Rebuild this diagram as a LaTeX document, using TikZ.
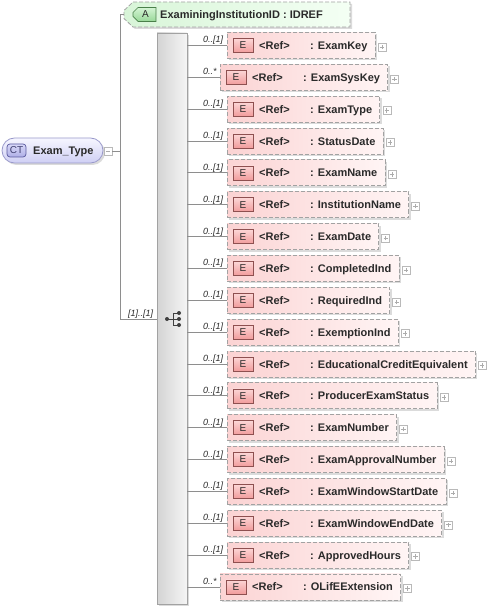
\documentclass[tikz,border=0pt]{standalone}
\usepackage{fontspec}
\setmainfont{Liberation Sans}
\usetikzlibrary{calc,fit,backgrounds,shadows}
\definecolor{linegray}{HTML}{8E8E8E}
\definecolor{boxgray}{HTML}{A2A2A2}
\definecolor{elL}{HTML}{FBD3D3}
\definecolor{elR}{HTML}{FFF5F5}
\definecolor{Etop}{HTML}{FCD6D6}
\definecolor{Ebot}{HTML}{F19C9C}
\definecolor{Ebord}{HTML}{8E5050}
\definecolor{atL}{HTML}{D8F5D8}
\definecolor{atR}{HTML}{F4FFF4}
\definecolor{Atop}{HTML}{D4F4D4}
\definecolor{Abot}{HTML}{98D898}
\definecolor{Abord}{HTML}{4A804A}
\definecolor{ctTop}{HTML}{F6F6FF}
\definecolor{ctBot}{HTML}{CFCFF4}
\definecolor{ctBord}{HTML}{9A9ACB}
\definecolor{ctbTop}{HTML}{D8D8F8}
\definecolor{ctbBot}{HTML}{AFAFE6}
\definecolor{ctbBord}{HTML}{5A5A9E}
\definecolor{txt}{HTML}{2A2A2A}
\tikzset{
  connline/.style={draw=linegray, line width=0.8pt},
  shad/.style={drop shadow={shadow xshift=2pt, shadow yshift=-2pt, fill=black, opacity=0.14}},
  elbox/.style={draw=boxgray, dash pattern=on 4pt off 2pt, line width=0.8pt,
    left color=elL, right color=elR, inner sep=0pt, shad},
  nametext/.style={font=\bfseries\fontsize{11}{13}\selectfont, text=txt, inner sep=0pt},
  multtext/.style={font=\itshape\fontsize{9}{10}\selectfont, text=txt, inner sep=0pt},
  badgeE/.style={draw=Ebord, line width=0.7pt, top color=Etop, bottom color=Ebot,
    minimum width=20pt, minimum height=14pt, inner sep=0pt,
    font=\fontsize{10}{10}\selectfont, text=txt},
  plusbox/.style={draw=gray!55, fill=white, line width=0.5pt, minimum size=8pt, inner sep=0pt,
    path picture={\draw[gray!65, line width=0.6pt]
      ([xshift=1.8pt]path picture bounding box.west) -- ([xshift=-1.8pt]path picture bounding box.east)
      ([yshift=1.8pt]path picture bounding box.south) -- ([yshift=-1.8pt]path picture bounding box.north);}},
  minusbox/.style={draw=gray!55, fill=white, line width=0.5pt, minimum size=8pt, inner sep=0pt,
    path picture={\draw[gray!65, line width=0.6pt]
      ([xshift=1.8pt]path picture bounding box.west) -- ([xshift=-1.8pt]path picture bounding box.east);}},
  seqbox/.style={draw=boxgray, line width=0.8pt, left color=black!17, right color=black!4,
    minimum width=30pt, minimum height=571pt, inner sep=0pt, shad},
  ctbox/.style={draw=ctBord, line width=0.8pt, top color=ctTop, bottom color=ctBot,
    rounded corners=12.5pt, minimum width=101pt, minimum height=25pt, inner sep=0pt, shad},
  ctbadge/.style={draw=ctbBord, line width=0.7pt, top color=ctbTop, bottom color=ctbBot,
    rounded corners=3pt, minimum width=19pt, minimum height=13pt, inner sep=0pt,
    font=\fontsize{10}{10}\selectfont, text=ctbBord!70!black},
  attrshape/.style={draw=boxgray, dash pattern=on 4pt off 2pt, line width=0.8pt,
    left color=atL, right color=atR, shad},
  abadge/.style={draw=Abord, line width=0.7pt, top color=Atop, bottom color=Abot},
  icon/.style={draw=black!75, line width=0.8pt},
}
\newcommand{\mOne}{0..[1]}
\newcommand{\mStar}{0..*}
\begin{document}
\begin{tikzpicture}[x=1pt,y=1pt]
\useasboundingbox (0,0) rectangle (488,-609);

% complex type
\node[ctbox] (ct) at (52.5,-150.5) {};
\node[ctbadge] (ctb) at (16.5,-150.5) {CT};
\node[nametext, anchor=base west] (ctname) at (33,-154.5) {Exam\_Type};
\node[minusbox] (ctminus) at (108,-151) {};

% attribute
\path[attrshape] (133,-2) -- (350,-2) -- (350,-27) -- (133,-27) -- (124,-18.5) -- (124,-10.5) -- cycle;
\coordinate (atip) at (124,-14.5);
\path[abadge] (138,-7.5) -- (156,-7.5) -- (156,-21.5) -- (138,-21.5) -- (133,-16.5) -- (133,-12.5) -- cycle;
\node[font=\fontsize{10}{10}\selectfont, text=txt, inner sep=0pt] (abl) at (145.5,-14.5) {A};
\node[nametext, anchor=base west] (attrtext) at (160,-18.5) {ExaminingInstitutionID : IDREF};

% sequence
\node[seqbox] (seq) at (172,-318.5) {};
\coordinate (vtop) at (120,-14.5);
\coordinate (vbot) at (120,-319);
\draw[connline] (vtop) -- (vbot);
\draw[connline] (vtop) -- (atip);
\draw[connline] (ctminus.east) -- (ctminus.east -| vtop);
\draw[connline] (vbot) -- (vbot -| seq.west);
\node[multtext, anchor=base west] (seqm) at (128,-316) {[1]..[1]};

% sequence icon
\draw[icon] (167,-319) -- (173,-319) (173,-313) -- (173,-325)
  (173,-313) -- (179,-313) (173,-319) -- (179,-319) (173,-325) -- (179,-325);
\fill[black!75] (167,-319) circle (2pt) (179,-313) circle (2pt) (179,-319) circle (2pt) (179,-325) circle (2pt);

% elements
\foreach \lab/\mul/\bl [count=\i from 0] in {
  ExamKey/\mOne/227, ExamSysKey/\mStar/220, ExamType/\mOne/227, StatusDate/\mOne/227,
  ExamName/\mOne/227, InstitutionName/\mOne/227, ExamDate/\mOne/227, CompletedInd/\mOne/227,
  RequiredInd/\mOne/227, ExemptionInd/\mOne/227, EducationalCreditEquivalent/\mOne/227,
  ProducerExamStatus/\mOne/227, ExamNumber/\mOne/227, ExamApprovalNumber/\mOne/227,
  ExamWindowStartDate/\mOne/227, ExamWindowEndDate/\mOne/227, ApprovedHours/\mOne/227,
  OLifEExtension/\mStar/220} {
  \pgfmathsetmacro\yc{-(45.5+31.85*\i)}
  \pgfmathsetmacro\yt{\yc+13}
  \pgfmathsetmacro\yb{\yc-13}
  \pgfmathsetmacro\ybase{\yc-4}
  \pgfmathsetmacro\ymul{\yc+2.5}
  \node[nametext, anchor=base west] (n\i) at (\bl+83,\ybase) {: \lab};
  \node[nametext, anchor=base west] (r\i) at (\bl+32,\ybase) {<Ref>};
  \coordinate (a\i) at (\bl,\yt);
  \coordinate (y\i) at (0,\yb);
  \path (n\i.east) ++(7.5pt,0) coordinate (c\i);
  \coordinate (d\i) at (c\i |- y\i);
  \begin{pgfonlayer}{background}
    \node[elbox, fit=(a\i)(d\i)] (box\i) {};
  \end{pgfonlayer}
  \node[badgeE] (b\i) at (\bl+16,\yc) {E};
  \node[plusbox] (p\i) at ($(box\i.east)+(6.5pt,-1.5pt)$) {};
  \draw[connline] (seq.east |- box\i.west) -- (box\i.west);
  \node[multtext, anchor=base west] (m\i) at (203,\ymul) {\mul};
}
\end{tikzpicture}
\end{document}
